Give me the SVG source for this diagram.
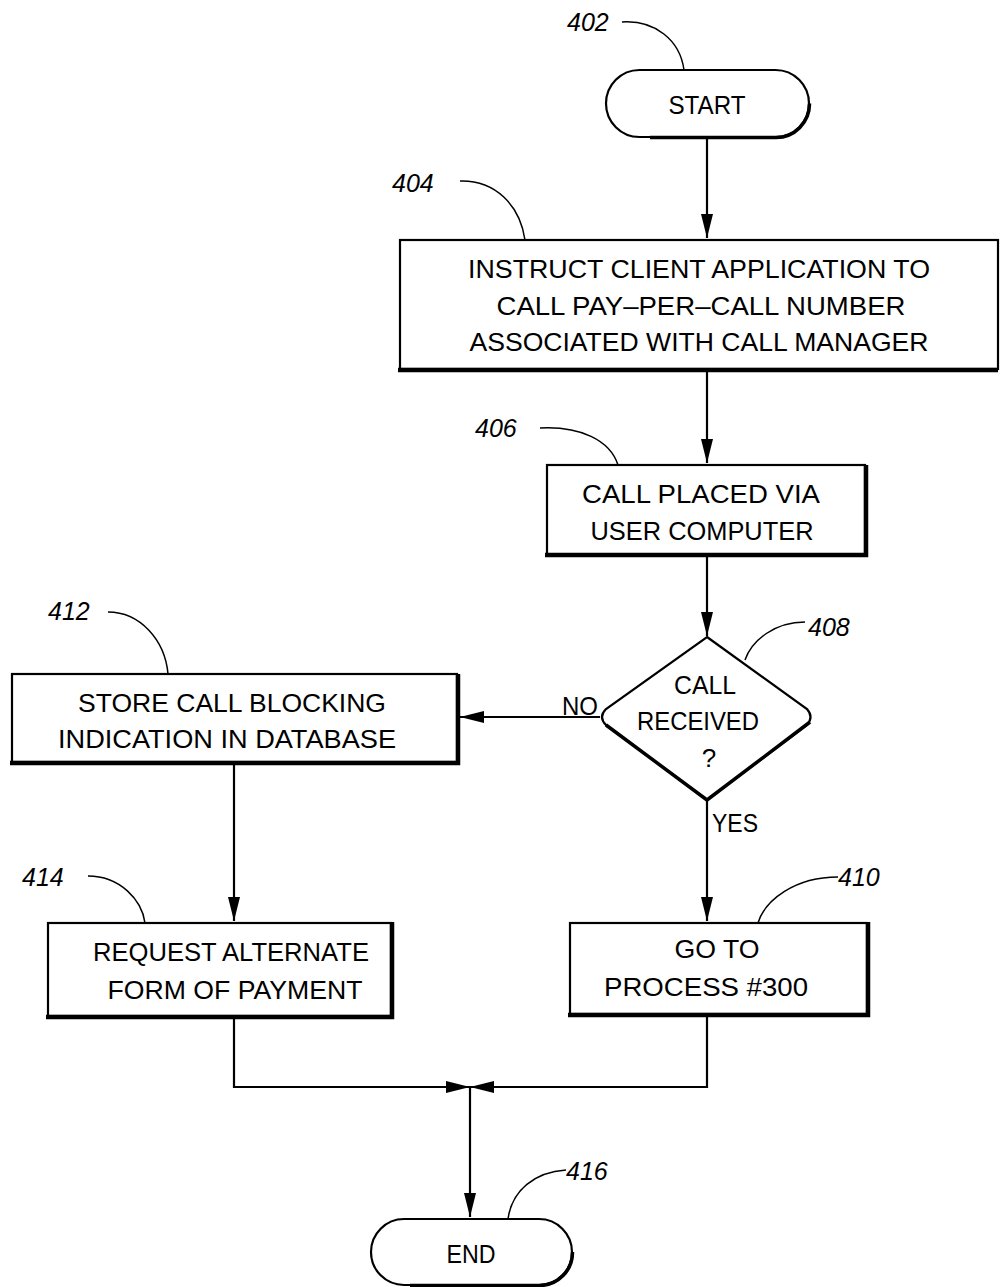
<svg xmlns="http://www.w3.org/2000/svg" width="1000" height="1287" viewBox="0 0 1000 1287">
<style>
.box{fill:#fff;stroke:#000;stroke-width:2.2}
.sh{fill:none;stroke:#000;stroke-width:4.5}
.t{font-family:"Liberation Sans",Arial,sans-serif;font-size:26px;fill:#000;text-anchor:middle}
.n{font-family:"Liberation Sans",Arial,sans-serif;font-size:25px;font-style:italic;fill:#000}
.ld{fill:none;stroke:#000;stroke-width:1.5}
.c{fill:none;stroke:#000;stroke-width:2.2}
</style>
<defs>
<marker id="ah" markerUnits="userSpaceOnUse" markerWidth="26" markerHeight="14" refX="24" refY="6" orient="auto">
<path d="M0,0 L24,6 L0,12 Z" fill="#000"/>
</marker>
</defs>
<g id="connectors">
<path class="c" d="M707,138 V238" marker-end="url(#ah)"/>
<path class="c" d="M707,372 V463" marker-end="url(#ah)"/>
<path class="c" d="M707,557 V636" marker-end="url(#ah)"/>
<path class="c" d="M600,717 H460" marker-end="url(#ah)"/>
<path class="c" d="M707,801 V921" marker-end="url(#ah)"/>
<path class="c" d="M234,765 V921" marker-end="url(#ah)"/>
<path class="c" d="M234,1019 V1087 H470" marker-end="url(#ah)"/>
<path class="c" d="M707,1017 V1087 H470" marker-end="url(#ah)"/>
<path class="c" d="M470,1087 V1217" marker-end="url(#ah)"/>
<text class="t" x="580" y="715" textLength="36" lengthAdjust="spacingAndGlyphs">NO</text>
<text class="t" x="735" y="832" textLength="46" lengthAdjust="spacingAndGlyphs">YES</text>
</g>
<g id="n402">
<rect class="box" x="606" y="70" width="203" height="67" rx="33.5"/>
<path class="sh" d="M650,137.5 H775.5 A33.5,33.5 0 0 0 809.5,103.5" style="stroke-width:3.5"/>
<text class="t" x="707" y="114" textLength="77" lengthAdjust="spacingAndGlyphs">START</text>
<text class="n" x="567" y="31">402</text>
<path class="ld" d="M622,22 C655,20 680,40 684,70"/>
</g>
<g id="n404">
<rect class="box" x="400" y="240" width="598" height="129"/>
<path class="sh" d="M398,370 H998"/>
<text class="t" x="699" y="278" textLength="462" lengthAdjust="spacingAndGlyphs">INSTRUCT CLIENT APPLICATION TO</text>
<text class="t" x="701" y="315" textLength="409" lengthAdjust="spacingAndGlyphs">CALL PAY–PER–CALL NUMBER</text>
<text class="t" x="699" y="351" textLength="459" lengthAdjust="spacingAndGlyphs">ASSOCIATED WITH CALL MANAGER</text>
<text class="n" x="392" y="192">404</text>
<path class="ld" d="M460,181 C495,180 520,205 525,240"/>
</g>
<g id="n406">
<rect class="box" x="547" y="465" width="318" height="90"/>
<path class="sh" d="M545,555 H866 V465"/>
<text class="t" x="701" y="503" textLength="238" lengthAdjust="spacingAndGlyphs">CALL PLACED VIA</text>
<text class="t" x="702" y="540" textLength="223" lengthAdjust="spacingAndGlyphs">USER COMPUTER</text>
<text class="n" x="475" y="437">406</text>
<path class="ld" d="M540,428 C580,426 610,440 618,465"/>
</g>
<g id="n408">
<path class="box" d="M707,637 L807,709 Q814,717 807,725 L707,800 L606,725 Q598,717 606,709 Z"/>
<path class="sh" d="M810,722 L707,800 L606,725" style="stroke-width:3.5"/>
<text class="t" x="705" y="694" textLength="62" lengthAdjust="spacingAndGlyphs">CALL</text>
<text class="t" x="698" y="730" textLength="122" lengthAdjust="spacingAndGlyphs">RECEIVED</text>
<text class="t" x="709" y="767">?</text>
<text class="n" x="808" y="636">408</text>
<path class="ld" d="M805,622 C775,622 752,640 745,660"/>
</g>
<g id="n412">
<rect class="box" x="12" y="674" width="445" height="88"/>
<path class="sh" d="M10,763 H458 V674"/>
<text class="t" x="232" y="712" textLength="308" lengthAdjust="spacingAndGlyphs">STORE CALL BLOCKING</text>
<text class="t" x="227" y="748" textLength="338" lengthAdjust="spacingAndGlyphs">INDICATION IN DATABASE</text>
<text class="n" x="48" y="620">412</text>
<path class="ld" d="M108,612 C140,612 165,640 168,674"/>
</g>
<g id="n414">
<rect class="box" x="48" y="923" width="343" height="93"/>
<path class="sh" d="M46,1017 H392 V922"/>
<text class="t" x="231" y="961" textLength="276" lengthAdjust="spacingAndGlyphs">REQUEST ALTERNATE</text>
<text class="t" x="235" y="999" textLength="255" lengthAdjust="spacingAndGlyphs">FORM OF PAYMENT</text>
<text class="n" x="22" y="886">414</text>
<path class="ld" d="M88,876 C120,876 142,900 145,923"/>
</g>
<g id="n410">
<rect class="box" x="570" y="923" width="297" height="91"/>
<path class="sh" d="M568,1015 H868 V922"/>
<text class="t" x="717" y="958" textLength="85" lengthAdjust="spacingAndGlyphs">GO TO</text>
<text class="t" x="706" y="996" textLength="204" lengthAdjust="spacingAndGlyphs">PROCESS #300</text>
<text class="n" x="838" y="886">410</text>
<path class="ld" d="M838,877 C795,877 765,900 758,923"/>
</g>
<g id="n416">
<rect class="box" x="371" y="1219" width="201" height="66" rx="33"/>
<path class="sh" d="M410,1285.5 H539 A33,33 0 0 0 572.5,1252" style="stroke-width:3.5"/>
<text class="t" x="471" y="1263" textLength="49" lengthAdjust="spacingAndGlyphs">END</text>
<text class="n" x="566" y="1180">416</text>
<path class="ld" d="M566,1170 C535,1172 512,1190 508,1219"/>
</g>
</svg>
